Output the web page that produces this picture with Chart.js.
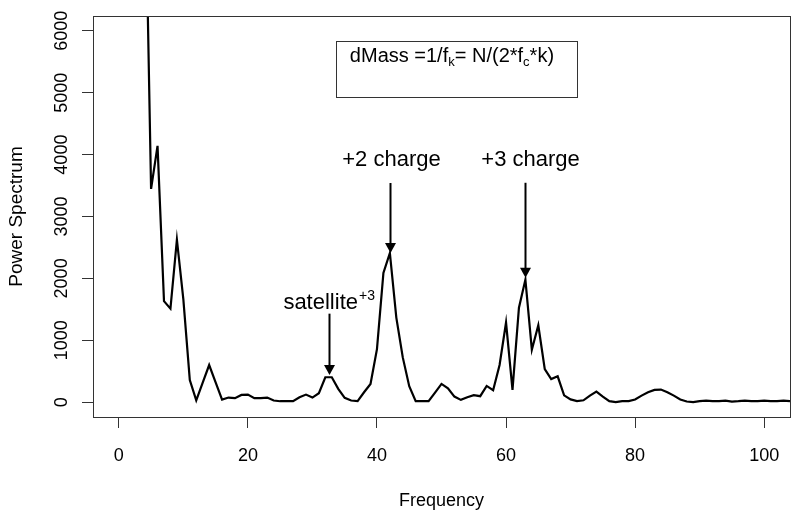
<!DOCTYPE html>
<html>
<head>
<meta charset="utf-8">
<script src="https://cdn.jsdelivr.net/npm/chart.js@4/dist/chart.umd.min.js"></script>
<style>
  html, body { margin: 0; padding: 0; background: #fff; }
  canvas { display: block; }
</style>
</head>
<body>
<canvas id="spec" width="800" height="519"></canvas>
<script>
// ── Data: periodogram of the mass spectrum ──
const freq = [
  0, 1, 2, 3, 4, 5, 6, 7, 8, 9, 10, 11, 12, 13, 14, 15, 16, 17, 18, 19,
  20, 21, 22, 23, 24, 25, 26, 27, 28, 29, 30, 31, 32, 33, 34, 35, 36, 37, 38, 39,
  40, 41, 42, 43, 44, 45, 46, 47, 48, 49, 50, 51, 52, 53, 54, 55, 56, 57, 58, 59,
  60, 61, 62, 63, 64, 65, 66, 67, 68, 69, 70, 71, 72, 73, 74, 75, 76, 77, 78, 79,
  80, 81, 82, 83, 84, 85, 86, 87, 88, 89, 90, 91, 92, 93, 94, 95, 96, 97, 98, 99,
  100, 101, 102, 103, 104, 105
];
const power = [
  60000, 42000, 28000, 16000, 9000, 3445, 4142, 1633, 1511, 2626, 1660, 358, 30, 315, 600, 320, 42, 74, 64, 117,
  122, 64, 64, 74, 26, 15, 15, 15, 80, 122, 74, 144, 402, 402, 214, 69, 26, 16, 160, 294,
  857, 2089, 2410, 1366, 723, 257, 16, 16, 16, 155, 294, 225, 90, 37, 80, 112, 96, 262, 193, 600,
  1286, 198, 1527, 1980, 846, 1242, 535, 374, 418, 110, 45, 16, 30, 106, 170, 90, 16, 0, 16, 16,
  42, 106, 160, 198, 203, 160, 106, 42, 10, 0, 16, 26, 16, 16, 26, 10, 16, 26, 16, 16,
  26, 16, 16, 26, 16, 16
];
const xTicks = [0, 20, 40, 60, 80, 100];
const yTicks = [0, 1000, 2000, 3000, 4000, 5000, 6000];

// ── Annotations (data units) ──
const labels = [
  { text: '+2 charge', x: 42.25, y: 3822, align: 'center' },
  { text: '+3 charge', x: 63.8,  y: 3822, align: 'center' },
];
const arrows = [
  { x: 42,   from: 3541, to: 2411 },
  { x: 63,   from: 3545, to: 2009 },
  { x: 32.5, from: 1430, to: 439 },
];

const FONT = "'Liberation Sans', Arial, Helvetica, sans-serif";
const INK  = '#000';
const AXIS = '#333';

const framePlugin = {
  id: 'frame',
  afterDraw(chart) {
    const { ctx, chartArea: a, scales: { x, y } } = chart;
    ctx.save();
    ctx.strokeStyle = AXIS;
    ctx.lineWidth = 1;
    ctx.strokeRect(a.left + 0.5, a.top + 0.5, a.right - a.left, a.bottom - a.top);

    // big labels
    ctx.fillStyle = INK;
    ctx.textBaseline = 'alphabetic';
    ctx.font = '22px ' + FONT;
    labels.forEach(l => {
      ctx.textAlign = l.align;
      ctx.fillText(l.text, x.getPixelForValue(l.x), y.getPixelForValue(l.y));
    });

    // satellite with superscript
    ctx.textAlign = 'left';
    ctx.font = '22px ' + FONT;
    const sx = x.getPixelForValue(25.5), sy = y.getPixelForValue(1500);
    ctx.fillText('satellite', sx, sy);
    const sw = ctx.measureText('satellite').width;
    ctx.font = '14px ' + FONT;
    ctx.fillText('+3', sx + sw + 1, sy - 9);

    // arrows
    ctx.strokeStyle = INK;
    ctx.lineWidth = 2;
    arrows.forEach(ar => {
      const px = Math.round(x.getPixelForValue(ar.x)) + 0.5;
      const y0 = y.getPixelForValue(ar.from);
      const y1 = y.getPixelForValue(ar.to);
      ctx.beginPath();
      ctx.moveTo(px, y0);
      ctx.lineTo(px, y1 - 8);
      ctx.stroke();
      ctx.beginPath();
      ctx.moveTo(px - 5.5, y1 - 10);
      ctx.lineTo(px + 5.5, y1 - 10);
      ctx.lineTo(px, y1);
      ctx.closePath();
      ctx.fill();
    });

    // formula box
    const bx0 = Math.round(x.getPixelForValue(33.7)) + 0.5;
    const bx1 = Math.round(x.getPixelForValue(71.0)) + 0.5;
    const by0 = Math.round(y.getPixelForValue(5839)) + 0.5;
    const by1 = Math.round(y.getPixelForValue(4928)) + 0.5;
    ctx.strokeStyle = AXIS;
    ctx.lineWidth = 1;
    ctx.strokeRect(bx0, by0, bx1 - bx0, by1 - by0);

    const parts = [
      ['dMass =1/f', 20, 0], ['k', 13, 4], ['= N/(2*f', 20, 0], ['c', 13, 4], ['*k)', 20, 0]
    ];
    let tx = x.getPixelForValue(35.8);
    const ty = y.getPixelForValue(5500);
    parts.forEach(([t, size, dy]) => {
      ctx.font = size + 'px ' + FONT;
      ctx.fillText(t, tx, ty + dy);
      tx += ctx.measureText(t).width;
    });
    ctx.restore();
  }
};

new Chart(document.getElementById('spec'), {
  type: 'line',
  data: {
    datasets: [{
      data: freq.map((f, i) => ({ x: f, y: power[i] })),
      borderColor: INK,
      borderWidth: 2.2,
      pointRadius: 0,
      tension: 0,
      fill: false,
      clip: 0,
    }]
  },
  options: {
    responsive: false,
    devicePixelRatio: 1,
    animation: false,
    layout: { padding: { top: 16, right: 10, left: 0, bottom: 0 } },
    plugins: { legend: { display: false }, tooltip: { enabled: false } },
    scales: {
      x: {
        type: 'linear',
        min: -4, max: 104,
        afterBuildTicks: s => { s.ticks = xTicks.map(v => ({ value: v })); },
        afterFit: s => { s.height = 102; },
        grid: { display: true, drawOnChartArea: false, drawTicks: true, tickLength: 11, color: AXIS },
        border: { display: false },
        ticks: { color: INK, font: { family: FONT, size: 18 }, padding: 17, maxRotation: 0, callback: v => String(v) },
        title: { display: true, text: 'Frequency', color: INK, font: { family: FONT, size: 18 }, padding: { top: 0, bottom: 7 } }
      },
      y: {
        type: 'linear',
        min: -240, max: 6240,
        afterBuildTicks: s => { s.ticks = yTicks.map(v => ({ value: v })); },
        afterFit: s => { s.width = 93; },
        grid: { display: true, drawOnChartArea: false, drawTicks: true, tickLength: 11, color: AXIS },
        border: { display: false },
        ticks: { color: INK, font: { family: FONT, size: 18 }, padding: 0, minRotation: 90, maxRotation: 90, crossAlign: 'center', callback: v => String(v) },
        title: { display: true, text: 'Power Spectrum', color: INK, font: { family: FONT, size: 19 }, padding: { top: 5, bottom: 0 } }
      }
    }
  },
  plugins: [framePlugin]
});
</script>
</body>
</html>
